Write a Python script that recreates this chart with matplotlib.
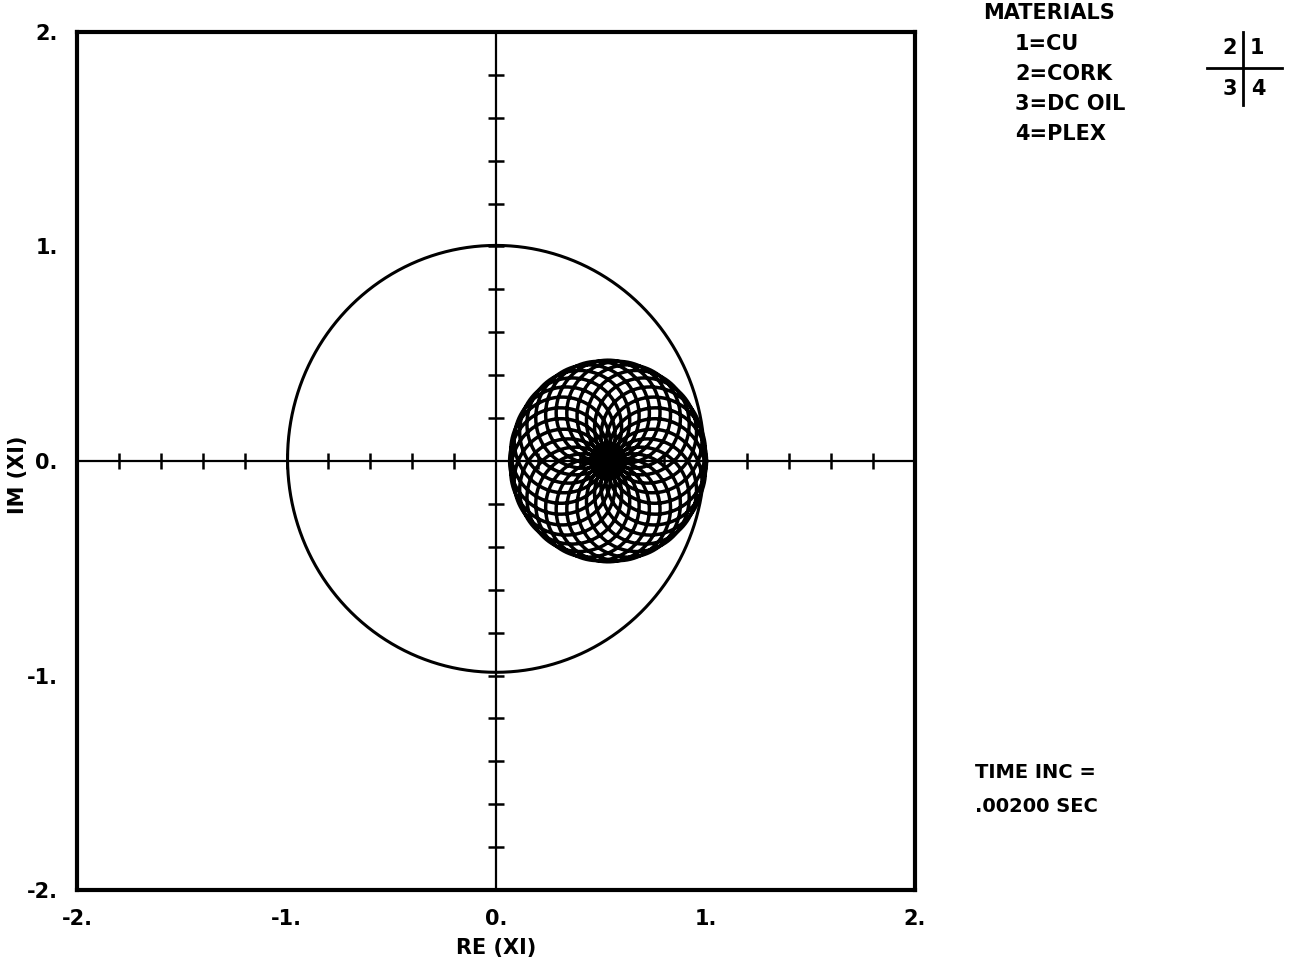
import numpy as np
import matplotlib.pyplot as plt

# trajectory of XI in the complex plane
circle_center = (0.0, 0.01)
circle_radius = 0.995
rose_center = (0.535, 0.0)
rose_radius = 0.235
rose_loops = 28

tick_values = [-2, -1, 0, 1, 2]
tick_labels = ["-2.", "-1.", "0.", "1.", "2."]
materials = ["1=CU", "2=CORK", "3=DC OIL", "4=PLEX"]

plt.rcParams["font.family"] = ["DejaVu Sans"]
plt.rcParams["font.weight"] = "bold"

fig = plt.figure(figsize=(12.9, 9.69), dpi=100)
ax = fig.add_axes([0.0597, 0.0815, 0.6496, 0.8855])
ax.set_xlim(-2, 2)
ax.set_ylim(-2, 2)

# outer circle
th = np.linspace(0, 2 * np.pi, 721)
ax.plot(circle_center[0] + circle_radius * np.cos(th),
        circle_center[1] + circle_radius * np.sin(th), color="black", lw=2.2)

# rosette: two equal rotating phasors
t = np.linspace(0, 2 * np.pi, 30000)
k = rose_loops + 1
z = rose_radius * (np.exp(1j * t) + np.exp(1j * k * t))
ax.plot(rose_center[0] + z.real, rose_center[1] + z.imag, color="black", lw=2.5)

# zero axes with cross ticks
ax.axhline(0, color="black", lw=1.6)
ax.axvline(0, color="black", lw=1.6)
minor = [v for v in np.round(np.arange(-1.8, 1.81, 0.2), 2) if v != 0]
ax.plot(minor, np.zeros(len(minor)), ls="none", marker="|", ms=11, mew=1.8, color="black")
ax.plot(np.zeros(len(minor)), minor, ls="none", marker="_", ms=11, mew=1.8, color="black")

for s in ax.spines.values():
    s.set_linewidth(3)

ax.set_xticks(tick_values)
ax.set_xticklabels(tick_labels)
ax.set_yticks(tick_values)
ax.set_yticklabels(tick_labels)
ax.tick_params(length=0, labelsize=15, pad=14)
ax.set_xlabel("RE (XI)", fontsize=15, fontweight="bold", labelpad=6)
fig.text(18 / 1290, 1 - 475 / 969, "IM (XI)", fontsize=15, rotation=90,
         va="center", ha="center")

# materials legend
fig.text(983 / 1290, 1 - 13 / 969, "MATERIALS", fontsize=15, va="center", ha="left")
for i, m in enumerate(materials):
    fig.text(1015 / 1290, 1 - (44 + 30 * i) / 969, m, fontsize=15, va="center", ha="left")

# quadrant key
fig.add_artist(plt.Line2D([1243 / 1290, 1243 / 1290], [1 - 32 / 969, 1 - 105 / 969],
                          color="black", lw=2))
fig.add_artist(plt.Line2D([1207 / 1290, 1282 / 1290], [1 - 68 / 969, 1 - 68 / 969],
                          color="black", lw=2))
for lab, px, py in [("2", 1230, 48), ("1", 1257, 48), ("3", 1230, 89), ("4", 1258, 89)]:
    fig.text(px / 1290, 1 - py / 969, lab, fontsize=15, va="center", ha="center")

fig.text(975 / 1290, 1 - 773 / 969, "TIME INC =", fontsize=14, va="center", ha="left")
fig.text(975 / 1290, 1 - 806 / 969, ".00200 SEC", fontsize=14, va="center", ha="left")

fig.savefig("out.png", dpi=100)
